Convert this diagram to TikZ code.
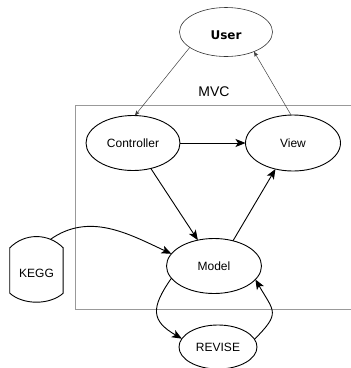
\documentclass[tikz,border=0pt]{standalone}
\usepackage{fontspec}
\setmainfont{Liberation Sans}
\newfontfamily\userfont{DejaVu Sans}
\usepackage{tikz}
\usetikzlibrary{arrows.meta,shapes.geometric}

\begin{document}
\begin{tikzpicture}[x=1pt,y=-1pt,
	every node/.style={font=\fontsize{12}{14}\selectfont},
	blob/.style={shape=ellipse,draw,line width=0.9pt,inner sep=0pt,outer sep=0pt},
	link/.style={line width=0.9pt,-{Stealth[length=10pt,width=8pt,inset=2.5pt]}},
	thinlink/.style={draw=black!75,line width=0.5pt,-{Stealth[length=5pt,width=4pt,inset=1pt]}}]
	\useasboundingbox (0,0) rectangle (351,368);
	% frame of the MVC part, open to the right
	\draw[black!40,line width=1pt] (360,105) -- (76,105) -- (76,309) -- (360,309);
	\node (mvc) at(214,92)[font=\fontsize{14}{16}\selectfont]{MVC};
	\node (user) at(226,32)[blob,draw=black!80,line width=0.6pt,minimum width=93pt,minimum height=49pt,
		text height=16pt,font=\userfont\bfseries\fontsize{12}{14}\selectfont]{User};
	\node (ctrl) at(133,143)[blob,minimum width=94pt,minimum height=55pt]{Controller};
	\node (view) at(293,143)[blob,minimum width=95pt,minimum height=56pt]{View};
	\node (model) at(214,266)[blob,minimum width=95pt,minimum height=55pt]{Model};
	\node (revise) at(218,347)[blob,minimum width=78pt,minimum height=44pt]{REVISE};
	\node (kegg) at(36.5,273)[minimum width=53pt,minimum height=72pt,inner sep=0pt]{KEGG};
	% drum outline round the KEGG label
	\draw[line width=0.9pt] ([yshift=-11pt]kegg.north west) .. controls +(15,-15) and +(-15,-15) .. ([yshift=-11pt]kegg.north east)
		-- ([yshift=16pt]kegg.south east) .. controls +(-13.5,12) and +(13.5,12) .. ([yshift=16pt]kegg.south west) -- cycle;

	\draw[thinlink] (user.203) -- (ctrl.86);
	\draw[thinlink] (view.94) -- (user.325);
	\draw[link] (ctrl.east) -- (view.west);
	\draw[link] (ctrl.305) -- (model.122);
	\draw[link] (model.53) -- (view.236);
	\draw[link] ([xshift=14pt,yshift=-2.5pt]kegg.north) to[out=35,in=155] (model.164);
	\draw[link] (model.196) to[out=235,in=150,looseness=1.5] (revise.167);
	\draw[link] (revise.12) to[out=45,in=300,looseness=1.6] (model.342);
\end{tikzpicture}
\end{document}
